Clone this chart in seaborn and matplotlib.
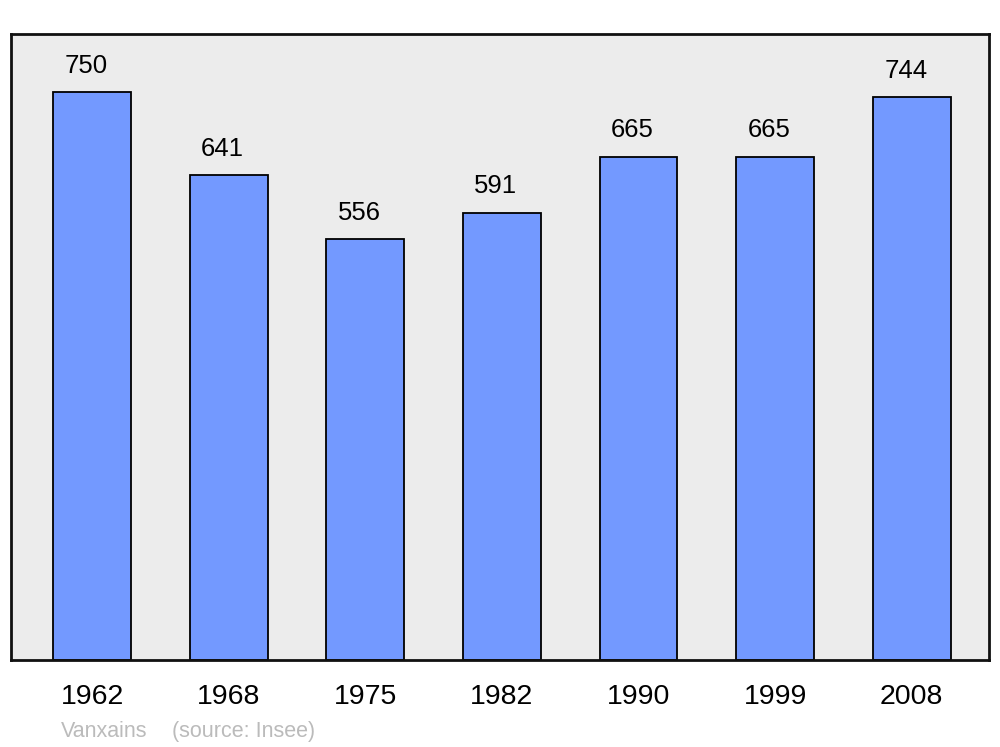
import matplotlib
matplotlib.use("Agg")
import matplotlib.pyplot as plt
import seaborn as sns
import pandas as pd

years = ["1962", "1968", "1975", "1982", "1990", "1999", "2008"]
population = [750, 641, 556, 591, 665, 665, 744]
town = "Vanxains"
source = "(source: Insee)"

df = pd.DataFrame({"year": years, "population": population})

sns.set_style("white")
plt.rcParams["font.family"] = ["Liberation Sans", "DejaVu Sans"]

fig = plt.figure(figsize=(10, 7.47), dpi=100)
ax = fig.add_axes([0.011, 0.1165, 0.978, 0.838])
ax.set_facecolor("#ececec")

sns.barplot(data=df, x="year", y="population", color="#7399ff", saturation=1,
            width=0.57, edgecolor="black", linewidth=1.3, ax=ax)

ax.set_xlim(-0.593, 6.565)
ax.set_ylim(0, 827)

# value labels above the bars
for i, v in enumerate(population):
    ax.annotate(str(v), (i, v), xytext=(-4.3, 10.2), textcoords="offset points",
                ha="center", va="bottom", fontsize=18.5, color="black")

ax.set_yticks([])
ax.set_xlabel("")
ax.set_ylabel("")
ax.tick_params(axis="x", length=0, pad=17, labelsize=20.5, labelcolor="black")

for s in ax.spines.values():
    s.set_visible(True)
    s.set_linewidth(2)
    s.set_color("#111111")

fig.text(0.061, 0.0134, town, fontsize=15.5, color="#bbbbbb",
         ha="left", va="baseline")
fig.text(0.172, 0.0134, source, fontsize=15.5, color="#bbbbbb",
         ha="left", va="baseline")

fig.savefig("out.png", dpi=100)
